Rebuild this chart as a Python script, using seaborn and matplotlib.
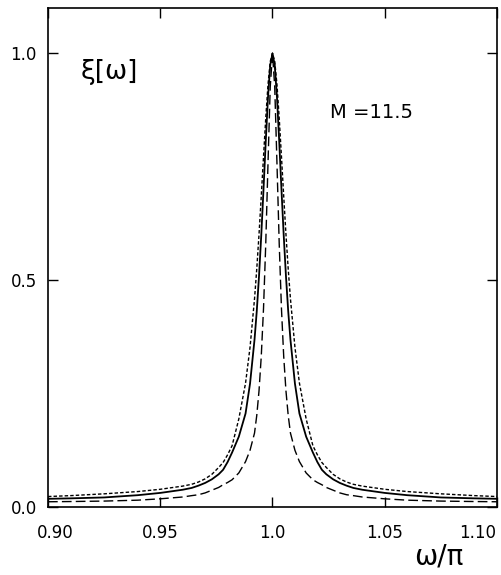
import matplotlib
matplotlib.use("Agg")
import matplotlib.pyplot as plt
import matplotlib.transforms as mtransforms
import seaborn as sns
import pandas as pd

omega = [0.900, 0.910, 0.925, 0.940, 0.950, 0.960, 0.964, 0.967, 0.970, 0.973, 0.976,
         0.978, 0.980, 0.982, 0.985, 0.988, 0.990, 0.992, 0.993, 0.994, 0.995, 0.996,
         0.997, 0.998, 0.999, 1.000,
         1.001, 1.002, 1.003, 1.004, 1.005, 1.006, 1.007, 1.008, 1.010, 1.012, 1.015,
         1.018, 1.020, 1.022, 1.024, 1.027, 1.030, 1.033, 1.036, 1.040, 1.050, 1.060,
         1.075, 1.090, 1.100]

xi_dotted = [0.023, 0.025, 0.029, 0.034, 0.039, 0.046, 0.050, 0.055, 0.062, 0.072, 0.087,
             0.098, 0.115, 0.135, 0.194, 0.273, 0.352, 0.459, 0.525, 0.601, 0.685, 0.772,
             0.857, 0.931, 0.982, 1.000,
             0.982, 0.931, 0.857, 0.772, 0.685, 0.601, 0.525, 0.459, 0.352, 0.273, 0.194,
             0.135, 0.115, 0.098, 0.087, 0.072, 0.062, 0.055, 0.050, 0.046, 0.039, 0.034,
             0.029, 0.025, 0.023]

xi_solid = [0.018, 0.019, 0.021, 0.026, 0.031, 0.038, 0.042, 0.047, 0.053, 0.061, 0.072,
            0.082, 0.099, 0.120, 0.155, 0.206, 0.272, 0.369, 0.432, 0.509, 0.599, 0.700,
            0.806, 0.903, 0.974, 1.000,
            0.974, 0.903, 0.806, 0.700, 0.599, 0.509, 0.432, 0.369, 0.272, 0.206, 0.155,
            0.120, 0.099, 0.082, 0.072, 0.061, 0.053, 0.047, 0.042, 0.038, 0.031, 0.026,
            0.021, 0.019, 0.018]

xi_dashed = [0.0115, 0.012, 0.013, 0.015, 0.018, 0.022, 0.025, 0.027, 0.031, 0.037, 0.043,
             0.049, 0.054, 0.060, 0.075, 0.100, 0.125, 0.163, 0.202, 0.256, 0.332, 0.437,
             0.580, 0.757, 0.926, 1.000,
             0.926, 0.757, 0.580, 0.437, 0.332, 0.256, 0.202, 0.163, 0.125, 0.100, 0.075,
             0.060, 0.054, 0.049, 0.043, 0.037, 0.031, 0.027, 0.025, 0.022, 0.018, 0.015,
             0.013, 0.012, 0.0115]

x_ticks = [0.90, 0.95, 1.00, 1.05, 1.10]
x_ticklabels = ["0.90", "0.95", "1.0", "1.05", "1.10"]
y_ticks = [0.0, 0.5, 1.0]
y_ticklabels = ["0.0", "0.5", "1.0"]

sns.set_style("ticks")
plt.rcParams['font.family'] = ['DejaVu Sans']
plt.rcParams['text.color'] = 'black'

df = pd.DataFrame({"omega": omega * 3,
                   "xi": xi_dotted + xi_solid + xi_dashed,
                   "curve": ["dotted"] * len(omega) + ["solid"] * len(omega) + ["dashed"] * len(omega)})

fig = plt.figure(figsize=(5.02, 5.75), dpi=100)
ax = fig.add_axes([0.0956, 0.1183, 0.8944, 0.8678])

styles = {"dotted": dict(dashes=(2.5, 1.5), lw=1.0),
          "solid": dict(dashes=None, lw=1.3),
          "dashed": dict(dashes=(7, 3), lw=1.0)}
for name, st in styles.items():
    sub = df[df["curve"] == name]
    sns.lineplot(data=sub, x="omega", y="xi", ax=ax, color="black", lw=st["lw"],
                 estimator=None, sort=False)
    l = ax.lines[-1]
    if st["dashes"] is not None:
        l.set_dashes(st["dashes"])

ax.set_xlim(0.90, 1.10)
ax.set_ylim(0.0, 1.10)
ax.set_xticks(x_ticks)
ax.set_xticklabels(x_ticklabels)
ax.set_yticks(y_ticks)
ax.set_yticklabels(y_ticklabels)
ax.set_xlabel("")
ax.set_ylabel("")
ax.tick_params(direction="in", top=True, right=True, length=7, width=1.0,
               labelsize=12, colors="black")
ax.tick_params(axis="x", pad=12)
ax.tick_params(axis="y", pad=8)
for s in ax.spines.values():
    s.set_linewidth(1.2)
    s.set_color("black")

# shift the edge tick labels inward as in the reference
xl = ax.get_xticklabels()
xl[0].set_transform(xl[0].get_transform() + mtransforms.ScaledTranslation(7 / 100, 0, fig.dpi_scale_trans))
xl[-1].set_horizontalalignment("right")
xl[-1].set_transform(xl[-1].get_transform() + mtransforms.ScaledTranslation(-1 / 100, 0, fig.dpi_scale_trans))

ax.text(0.072, 0.872, "ξ[ω]", transform=ax.transAxes, fontsize=19, ha="left", va="center",
        color="black")
ax.text(0.628, 0.79, "M =11.5", transform=ax.transAxes, fontsize=14, ha="left", va="center",
        color="black")
fig.text(0.875, 0.033, "ω/π", fontsize=20, ha="center", va="center", color="black")

fig.savefig("out.png", dpi=100)
